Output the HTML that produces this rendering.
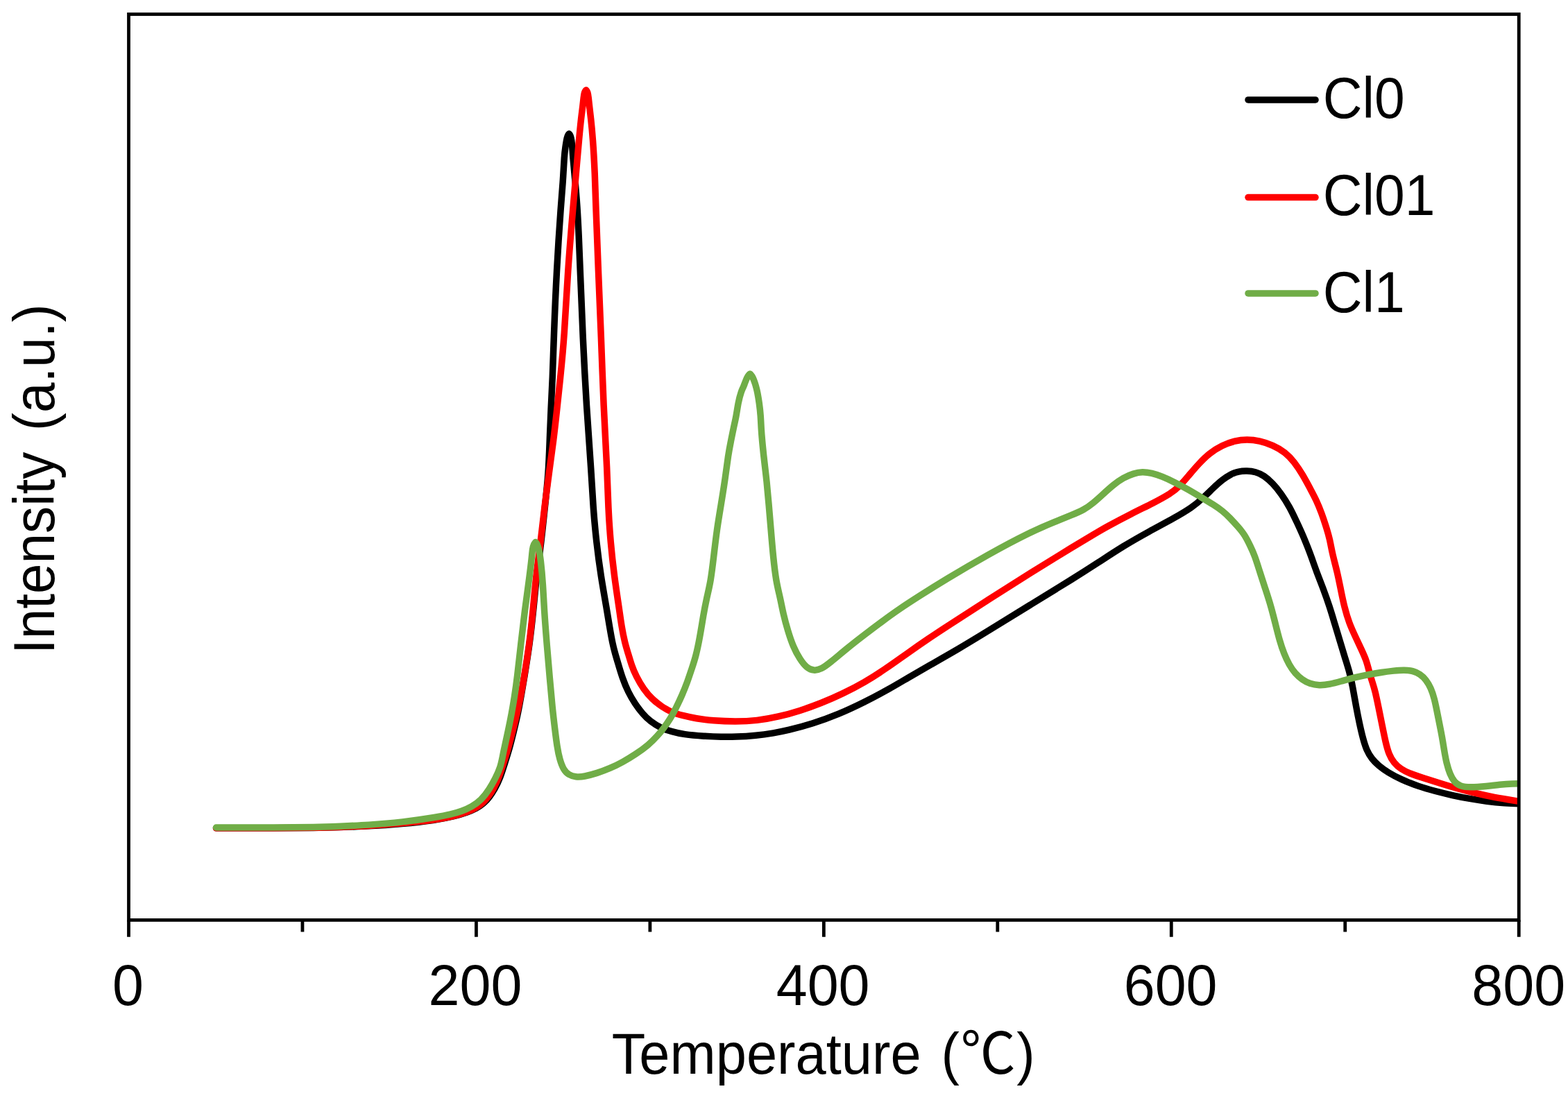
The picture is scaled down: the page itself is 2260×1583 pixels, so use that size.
<!DOCTYPE html>
<html lang="en">
<head>
<meta charset="utf-8">
<title>TPR profiles</title>
<style>
html,body{margin:0;padding:0;background:#fff;}
body{width:2260px;height:1583px;overflow:hidden;}
svg{display:block;}
text{font-family:"Liberation Sans","Noto Sans CJK KR",sans-serif;fill:#000;}
.c{fill:none;stroke-width:9.5;stroke-linecap:round;stroke-linejoin:round;}
.ax{fill:none;stroke:#000;stroke-width:4.8;}
</style>
</head>
<body>
<svg width="2260" height="1583" viewBox="0 0 2260 1583">
<rect x="0" y="0" width="2260" height="1583" fill="#fff"/>
<defs><clipPath id="plot"><rect x="185.5" y="20.5" width="2003.6999999999998" height="1305.95"/></clipPath></defs>
<g clip-path="url(#plot)">
<path class="c" stroke="#000000" d="M311.50 1193.80C311.50 1193.80 311.50 1193.80 326.25 1193.80C341.00 1193.80 370.50 1193.80 394.42 1193.75C418.33 1193.70 436.67 1193.60 451.67 1193.38C466.67 1193.17 478.33 1192.83 490.83 1192.45C503.33 1192.07 516.67 1191.63 531.67 1190.85C546.67 1190.07 563.33 1188.93 579.50 1187.50C595.67 1186.07 611.33 1184.33 624.00 1182.47C636.67 1180.60 646.33 1178.60 654.17 1176.67C662.00 1174.73 668.00 1172.87 673.08 1171.02C678.17 1169.17 682.33 1167.33 686.17 1165.30C690.00 1163.27 693.50 1161.03 696.68 1158.28C699.87 1155.53 702.73 1152.27 705.38 1148.80C708.03 1145.33 710.47 1141.67 712.98 1137.23C715.50 1132.80 718.10 1127.60 720.70 1120.82C723.30 1114.03 725.90 1105.67 728.15 1098.52C730.40 1091.37 732.30 1085.43 734.30 1078.27C736.30 1071.10 738.40 1062.70 740.42 1054.42C742.43 1046.13 744.37 1037.97 746.12 1029.62C747.87 1021.27 749.43 1012.73 750.93 1004.27C752.43 995.80 753.87 987.40 755.97 974.63C758.07 961.87 760.83 944.73 763.12 927.90C765.40 911.07 767.20 894.53 768.82 878.38C770.43 862.23 771.87 846.47 773.73 830.32C775.60 814.17 777.90 797.63 779.90 781.12C781.90 764.60 783.60 748.10 785.33 731.58C787.07 715.07 788.83 698.53 789.98 682.38C791.13 666.23 791.67 650.47 792.27 634.32C792.87 618.17 793.53 601.63 794.22 587.18C794.90 572.73 795.60 560.37 796.27 543.85C796.93 527.33 797.57 506.67 798.55 480.18C799.53 453.70 800.87 421.40 802.60 389.23C804.33 357.07 806.47 325.03 808.02 303.70C809.57 282.37 810.53 271.73 811.32 260.22C812.10 248.70 812.70 236.30 813.28 228.03C813.87 219.77 814.43 215.63 814.97 211.98C815.50 208.33 816.00 205.17 816.48 202.58C816.97 200.00 817.43 198.00 818.05 196.42C818.67 194.83 819.43 193.67 819.82 193.08C820.20 192.50 820.20 192.50 820.58 193.08C820.97 193.67 821.73 194.83 822.33 196.42C822.93 198.00 823.37 200.00 823.75 202.58C824.13 205.17 824.47 208.33 824.75 211.98C825.03 215.63 825.27 219.77 825.97 228.02C826.67 236.27 827.83 248.63 828.92 260.65C830.00 272.67 831.00 284.33 831.88 297.50C832.77 310.67 833.53 325.33 834.23 340.83C834.93 356.33 835.57 372.67 836.52 397.00C837.47 421.33 838.73 453.67 840.23 486.35C841.73 519.03 843.47 552.07 845.53 584.73C847.60 617.40 850.00 649.70 851.62 674.12C853.23 698.53 854.07 715.07 855.25 731.58C856.43 748.10 857.97 764.60 859.82 781.12C861.67 797.63 863.83 814.17 866.33 830.32C868.83 846.47 871.67 862.23 873.73 874.25C875.80 886.27 877.10 894.53 878.48 902.80C879.87 911.07 881.33 919.33 882.68 925.87C884.03 932.40 885.27 937.20 886.72 942.37C888.17 947.53 889.83 953.07 891.58 958.93C893.33 964.80 895.17 971.00 897.48 977.57C899.80 984.13 902.60 991.07 905.62 997.25C908.63 1003.43 911.87 1008.87 915.33 1014.07C918.80 1019.27 922.50 1024.23 926.15 1028.52C929.80 1032.80 933.40 1036.40 937.87 1039.87C942.33 1043.33 947.67 1046.67 952.88 1049.10C958.10 1051.53 963.20 1053.07 968.53 1054.55C973.87 1056.03 979.43 1057.47 987.28 1058.60C995.13 1059.73 1005.27 1060.57 1014.47 1061.15C1023.67 1061.73 1031.93 1062.07 1039.37 1062.23C1046.80 1062.40 1053.40 1062.40 1061.70 1062.08C1070.00 1061.77 1080.00 1061.13 1089.30 1060.20C1098.60 1059.27 1107.20 1058.03 1114.58 1056.83C1121.97 1055.63 1128.13 1054.47 1137.42 1052.23C1146.70 1050.00 1159.10 1046.70 1171.50 1042.78C1183.90 1038.87 1196.30 1034.33 1208.70 1029.17C1221.10 1024.00 1233.50 1018.20 1245.88 1012.00C1258.27 1005.80 1270.63 999.20 1280.95 993.42C1291.27 987.63 1299.53 982.67 1309.03 977.08C1318.53 971.50 1329.27 965.30 1341.38 958.38C1353.50 951.47 1367.00 943.83 1380.98 935.62C1394.97 927.40 1409.43 918.60 1427.00 907.80C1444.57 897.00 1465.23 884.20 1485.88 871.50C1506.53 858.80 1527.17 846.20 1543.35 836.13C1559.53 826.07 1571.27 818.53 1583.15 810.80C1595.03 803.07 1607.07 795.13 1619.28 787.65C1631.50 780.17 1643.90 773.13 1656.30 766.32C1668.70 759.50 1681.10 752.90 1691.43 747.12C1701.77 741.33 1710.03 736.37 1716.63 731.82C1723.23 727.27 1728.17 723.13 1733.33 718.38C1738.50 713.63 1743.90 708.27 1748.72 703.68C1753.53 699.10 1757.77 695.30 1761.88 692.07C1766.00 688.83 1770.00 686.17 1773.83 684.17C1777.67 682.17 1781.33 680.83 1785.20 680.05C1789.07 679.27 1793.13 679.03 1797.23 679.12C1801.33 679.20 1805.47 679.60 1809.60 680.73C1813.73 681.87 1817.87 683.73 1821.98 686.52C1826.10 689.30 1830.20 693.00 1834.32 697.33C1838.43 701.67 1842.57 706.63 1846.70 712.42C1850.83 718.20 1854.97 724.80 1858.68 731.62C1862.40 738.43 1865.70 745.47 1868.80 752.08C1871.90 758.70 1874.80 764.90 1877.48 771.10C1880.17 777.30 1882.63 783.50 1884.72 788.82C1886.80 794.13 1888.50 798.57 1890.60 804.42C1892.70 810.27 1895.20 817.53 1898.10 825.30C1901.00 833.07 1904.30 841.33 1907.40 849.58C1910.50 857.83 1913.40 866.07 1916.08 874.32C1918.77 882.57 1921.23 890.83 1923.72 899.10C1926.20 907.37 1928.70 915.63 1931.18 923.90C1933.67 932.17 1936.13 940.43 1938.43 947.87C1940.73 955.30 1942.87 961.90 1944.72 968.78C1946.57 975.67 1948.13 982.83 1949.75 991.35C1951.37 999.87 1953.03 1009.73 1954.70 1018.78C1956.37 1027.83 1958.03 1036.07 1959.68 1043.70C1961.33 1051.33 1962.97 1058.37 1964.62 1064.57C1966.27 1070.77 1967.93 1076.13 1970.00 1080.88C1972.07 1085.63 1974.53 1089.77 1977.42 1093.48C1980.30 1097.20 1983.60 1100.50 1987.52 1103.80C1991.43 1107.10 1995.97 1110.40 2001.33 1113.70C2006.70 1117.00 2012.90 1120.30 2020.13 1123.62C2027.37 1126.93 2035.63 1130.27 2043.90 1133.12C2052.17 1135.97 2060.43 1138.33 2068.70 1140.52C2076.97 1142.70 2085.23 1144.70 2093.50 1146.52C2101.77 1148.33 2110.03 1149.97 2118.28 1151.42C2126.53 1152.87 2134.77 1154.13 2143.02 1155.18C2151.27 1156.23 2159.53 1157.07 2168.37 1157.67C2177.20 1158.27 2186.60 1158.63 2191.30 1158.82C2196.00 1159.00 2196.00 1159.00 2196.00 1159.00"/>
<path class="c" stroke="#ff0000" d="M311.50 1193.80C311.50 1193.80 311.50 1193.80 326.25 1193.80C341.00 1193.80 370.50 1193.80 394.42 1193.75C418.33 1193.70 436.67 1193.60 451.67 1193.35C466.67 1193.10 478.33 1192.70 490.83 1192.25C503.33 1191.80 516.67 1191.30 531.67 1190.42C546.67 1189.53 563.33 1188.27 579.48 1186.85C595.63 1185.43 611.27 1183.87 623.93 1182.08C636.60 1180.30 646.30 1178.30 654.12 1176.35C661.93 1174.40 667.87 1172.50 672.87 1170.58C677.87 1168.67 681.93 1166.73 685.65 1164.58C689.37 1162.43 692.73 1160.07 695.82 1157.23C698.90 1154.40 701.70 1151.10 704.23 1147.67C706.77 1144.23 709.03 1140.67 711.45 1136.32C713.87 1131.97 716.43 1126.83 719.02 1120.10C721.60 1113.37 724.20 1105.03 726.45 1097.93C728.70 1090.83 730.60 1084.97 732.63 1077.85C734.67 1070.73 736.83 1062.37 738.92 1054.12C741.00 1045.87 743.00 1037.73 744.92 1029.40C746.83 1021.07 748.67 1012.53 750.33 1004.10C752.00 995.67 753.50 987.33 755.62 974.60C757.73 961.87 760.47 944.73 762.70 927.90C764.93 911.07 766.67 894.53 768.22 878.38C769.77 862.23 771.13 846.47 772.95 830.32C774.77 814.17 777.03 797.63 779.07 781.12C781.10 764.60 782.90 748.10 784.90 731.58C786.90 715.07 789.10 698.53 791.30 682.38C793.50 666.23 795.70 650.47 797.62 635.13C799.53 619.80 801.17 604.90 802.73 590.45C804.30 576.00 805.80 562.00 807.58 544.67C809.37 527.33 811.43 506.67 813.27 480.18C815.10 453.70 816.70 421.40 818.87 389.23C821.03 357.07 823.77 325.03 825.78 301.63C827.80 278.23 829.10 263.47 830.47 247.82C831.83 232.17 833.27 215.63 834.47 202.52C835.67 189.40 836.63 179.70 837.50 172.07C838.37 164.43 839.13 158.87 839.73 153.87C840.33 148.87 840.77 144.43 841.17 141.05C841.57 137.67 841.93 135.33 842.52 133.58C843.10 131.83 843.90 130.67 844.30 130.08C844.70 129.50 844.70 129.50 845.10 130.08C845.50 130.67 846.30 131.83 846.88 133.58C847.47 135.33 847.83 137.67 848.23 141.05C848.63 144.43 849.07 148.87 849.63 153.87C850.20 158.87 850.90 164.43 851.73 172.07C852.57 179.70 853.53 189.40 854.50 202.52C855.47 215.63 856.43 232.17 857.12 247.82C857.80 263.47 858.20 278.23 859.02 301.63C859.83 325.03 861.07 357.07 862.38 389.23C863.70 421.40 865.10 453.70 866.35 486.37C867.60 519.03 868.70 552.07 870.18 584.73C871.67 617.40 873.53 649.70 874.67 674.12C875.80 698.53 876.20 715.07 876.95 731.58C877.70 748.10 878.80 764.60 880.25 781.12C881.70 797.63 883.50 814.17 885.60 830.32C887.70 846.47 890.10 862.23 891.85 874.25C893.60 886.27 894.70 894.53 896.07 902.80C897.43 911.07 899.07 919.33 900.77 926.20C902.47 933.07 904.23 938.53 905.80 943.70C907.37 948.87 908.73 953.73 910.50 958.85C912.27 963.97 914.43 969.33 917.37 975.20C920.30 981.07 924.00 987.43 927.90 992.98C931.80 998.53 935.90 1003.27 940.28 1007.47C944.67 1011.67 949.33 1015.33 954.17 1018.58C959.00 1021.83 964.00 1024.67 969.07 1026.78C974.13 1028.90 979.27 1030.30 984.93 1031.72C990.60 1033.13 996.80 1034.57 1004.03 1035.80C1011.27 1037.03 1019.53 1038.07 1029.03 1038.80C1038.53 1039.53 1049.27 1039.97 1059.80 1039.97C1070.33 1039.97 1080.67 1039.53 1091.00 1038.38C1101.33 1037.23 1111.67 1035.37 1121.98 1032.98C1132.30 1030.60 1142.60 1027.70 1152.92 1024.40C1163.23 1021.10 1173.57 1017.40 1183.90 1013.27C1194.23 1009.13 1204.57 1004.57 1214.90 999.60C1225.23 994.63 1235.57 989.27 1245.88 983.28C1256.20 977.30 1266.50 970.70 1276.82 963.68C1287.13 956.67 1297.47 949.23 1308.00 941.80C1318.53 934.37 1329.27 926.93 1338.30 920.80C1347.33 914.67 1354.67 909.83 1368.65 900.75C1382.63 891.67 1403.27 878.33 1423.92 865.08C1444.57 851.83 1465.23 838.67 1485.88 825.75C1506.53 812.83 1527.17 800.17 1542.85 790.63C1558.53 781.10 1569.27 774.70 1577.02 770.10C1584.77 765.50 1589.53 762.70 1598.12 758.00C1606.70 753.30 1619.10 746.70 1630.47 740.92C1641.83 735.13 1652.17 730.17 1661.47 725.42C1670.77 720.67 1679.03 716.13 1685.23 712.22C1691.43 708.30 1695.57 705.00 1699.90 700.67C1704.23 696.33 1708.77 690.97 1713.52 685.38C1718.27 679.80 1723.23 674.00 1728.18 668.63C1733.13 663.27 1738.07 658.33 1743.63 653.97C1749.20 649.60 1755.40 645.80 1761.48 642.82C1767.57 639.83 1773.53 637.67 1779.47 636.22C1785.40 634.77 1791.30 634.03 1797.35 634.02C1803.40 634.00 1809.60 634.70 1815.78 636.08C1821.97 637.47 1828.13 639.53 1834.32 642.32C1840.50 645.10 1846.70 648.60 1851.87 652.63C1857.03 656.67 1861.17 661.23 1865.30 666.60C1869.43 671.97 1873.57 678.13 1877.50 684.73C1881.43 691.33 1885.17 698.37 1888.47 704.57C1891.77 710.77 1894.63 716.13 1897.32 721.92C1900.00 727.70 1902.50 733.90 1904.78 740.10C1907.07 746.30 1909.13 752.50 1911.08 758.70C1913.03 764.90 1914.87 771.10 1916.37 777.65C1917.87 784.20 1919.03 791.10 1920.83 799.02C1922.63 806.93 1925.07 815.87 1927.10 824.47C1929.13 833.07 1930.77 841.33 1932.42 849.58C1934.07 857.83 1935.73 866.07 1937.80 874.32C1939.87 882.57 1942.33 890.83 1945.02 898.07C1947.70 905.30 1950.60 911.50 1953.50 917.70C1956.40 923.90 1959.30 930.10 1961.98 935.88C1964.67 941.67 1967.13 947.03 1969.02 952.48C1970.90 957.93 1972.20 963.47 1973.68 968.90C1975.17 974.33 1976.83 979.67 1978.25 984.17C1979.67 988.67 1980.83 992.33 1982.23 998.10C1983.63 1003.87 1985.27 1011.73 1986.92 1019.78C1988.57 1027.83 1990.23 1036.07 1991.88 1044.32C1993.53 1052.57 1995.17 1060.83 1996.82 1068.07C1998.47 1075.30 2000.13 1081.50 2002.20 1086.67C2004.27 1091.83 2006.73 1095.97 2009.62 1099.48C2012.50 1103.00 2015.80 1105.90 2019.52 1108.38C2023.23 1110.87 2027.37 1112.93 2032.53 1115.00C2037.70 1117.07 2043.90 1119.13 2051.13 1121.47C2058.37 1123.80 2066.63 1126.40 2074.90 1128.98C2083.17 1131.57 2091.43 1134.13 2099.70 1136.47C2107.97 1138.80 2116.23 1140.90 2124.48 1142.88C2132.73 1144.87 2140.97 1146.73 2149.22 1148.37C2157.47 1150.00 2165.73 1151.40 2173.53 1152.72C2181.33 1154.03 2188.67 1155.27 2192.33 1155.88C2196.00 1156.50 2196.00 1156.50 2196.00 1156.50"/>
<path class="c" stroke="#70ad47" d="M311.50 1193.00C311.50 1193.00 311.50 1193.00 326.25 1193.00C341.00 1193.00 370.50 1193.00 394.42 1192.93C418.33 1192.87 436.67 1192.73 451.67 1192.43C466.67 1192.13 478.33 1191.67 490.83 1191.15C503.33 1190.63 516.67 1190.07 531.67 1189.12C546.67 1188.17 563.33 1186.83 580.17 1184.88C597.00 1182.93 614.00 1180.37 625.67 1178.45C637.33 1176.53 643.67 1175.27 649.43 1173.90C655.20 1172.53 660.40 1171.07 665.40 1169.23C670.40 1167.40 675.20 1165.20 679.85 1162.55C684.50 1159.90 689.00 1156.80 693.23 1152.60C697.47 1148.40 701.43 1143.10 704.88 1137.80C708.33 1132.50 711.27 1127.20 713.93 1121.88C716.60 1116.57 719.00 1111.23 720.72 1105.92C722.43 1100.60 723.47 1095.30 724.40 1090.65C725.33 1086.00 726.17 1082.00 727.47 1076.05C728.77 1070.10 730.53 1062.20 732.28 1053.87C734.03 1045.53 735.77 1036.77 737.30 1028.52C738.83 1020.27 740.17 1012.53 741.47 1004.28C742.77 996.03 744.03 987.27 745.58 974.40C747.13 961.53 748.97 944.57 750.85 927.82C752.73 911.07 754.67 894.53 756.47 880.45C758.27 866.37 759.93 854.73 761.55 842.72C763.17 830.70 764.73 818.30 765.70 809.62C766.67 800.93 767.03 795.97 767.58 792.32C768.13 788.67 768.87 786.33 769.62 784.75C770.37 783.17 771.13 782.33 771.52 781.92C771.90 781.50 771.90 781.50 772.28 781.92C772.67 782.33 773.43 783.17 774.22 784.75C775.00 786.33 775.80 788.67 776.65 792.32C777.50 795.97 778.40 800.93 779.42 809.62C780.43 818.30 781.57 830.70 782.38 842.72C783.20 854.73 783.70 866.37 784.62 880.85C785.53 895.33 786.87 912.67 788.22 929.20C789.57 945.73 790.93 961.47 792.25 976.47C793.57 991.47 794.83 1005.73 796.08 1018.12C797.33 1030.50 798.57 1041.00 799.70 1050.38C800.83 1059.77 801.87 1068.03 803.00 1075.27C804.13 1082.50 805.37 1088.70 806.92 1094.28C808.47 1099.87 810.33 1104.83 812.52 1108.55C814.70 1112.27 817.20 1114.73 820.10 1116.48C823.00 1118.23 826.30 1119.27 830.02 1119.68C833.73 1120.10 837.87 1119.90 843.02 1118.97C848.17 1118.03 854.33 1116.37 860.52 1114.40C866.70 1112.43 872.90 1110.17 879.10 1107.48C885.30 1104.80 891.50 1101.70 897.70 1098.30C903.90 1094.90 910.10 1091.20 916.30 1087.07C922.50 1082.93 928.70 1078.37 933.87 1074.02C939.03 1069.67 943.17 1065.53 946.88 1061.40C950.60 1057.27 953.90 1053.13 957.00 1049.02C960.10 1044.90 963.00 1040.80 965.88 1036.05C968.77 1031.30 971.63 1025.90 974.52 1020.12C977.40 1014.33 980.30 1008.17 983.00 1001.98C985.70 995.80 988.20 989.60 990.47 983.40C992.73 977.20 994.77 971.00 996.82 964.80C998.87 958.60 1000.93 952.40 1002.88 944.93C1004.83 937.47 1006.67 928.73 1008.48 918.73C1010.30 908.73 1012.10 897.47 1013.72 888.05C1015.33 878.63 1016.77 871.07 1018.52 863.15C1020.27 855.23 1022.33 846.97 1024.10 836.63C1025.87 826.30 1027.33 813.90 1028.78 801.50C1030.23 789.10 1031.67 776.70 1033.42 764.32C1035.17 751.93 1037.23 739.57 1039.22 727.52C1041.20 715.47 1043.10 703.73 1044.83 691.68C1046.57 679.63 1048.13 667.27 1049.53 657.98C1050.93 648.70 1052.17 642.50 1053.40 636.30C1054.63 630.10 1055.87 623.90 1057.20 617.70C1058.53 611.50 1059.97 605.30 1061.10 599.10C1062.23 592.90 1063.07 586.70 1064.23 580.85C1065.40 575.00 1066.90 569.50 1068.15 565.78C1069.40 562.07 1070.40 560.13 1071.20 558.35C1072.00 556.57 1072.60 554.93 1073.25 553.18C1073.90 551.43 1074.60 549.57 1075.37 547.70C1076.13 545.83 1076.97 543.97 1077.92 542.48C1078.87 541.00 1079.93 539.90 1080.47 539.35C1081.00 538.80 1081.00 538.80 1081.52 539.35C1082.03 539.90 1083.07 541.00 1083.98 542.48C1084.90 543.97 1085.70 545.83 1086.43 547.70C1087.17 549.57 1087.83 551.43 1088.45 553.40C1089.07 555.37 1089.63 557.43 1090.15 559.38C1090.67 561.33 1091.13 563.17 1091.82 566.67C1092.50 570.17 1093.40 575.33 1094.20 581.02C1095.00 586.70 1095.70 592.90 1096.17 599.10C1096.63 605.30 1096.87 611.50 1097.23 617.70C1097.60 623.90 1098.10 630.10 1098.67 636.30C1099.23 642.50 1099.87 648.70 1100.53 654.90C1101.20 661.10 1101.90 667.30 1102.63 673.48C1103.37 679.67 1104.13 685.83 1105.05 694.78C1105.97 703.73 1107.03 715.47 1108.08 727.52C1109.13 739.57 1110.17 751.93 1111.20 764.32C1112.23 776.70 1113.27 789.10 1114.50 801.50C1115.73 813.90 1117.17 826.30 1118.88 836.38C1120.60 846.47 1122.60 854.23 1124.33 862.03C1126.07 869.83 1127.53 877.67 1129.37 885.60C1131.20 893.53 1133.40 901.57 1135.73 909.30C1138.07 917.03 1140.53 924.47 1143.42 931.28C1146.30 938.10 1149.60 944.30 1152.90 949.47C1156.20 954.63 1159.50 958.77 1162.82 961.55C1166.13 964.33 1169.47 965.77 1172.98 966.07C1176.50 966.37 1180.20 965.53 1184.12 963.58C1188.03 961.63 1192.17 958.57 1198.37 953.53C1204.57 948.50 1212.83 941.50 1221.10 934.78C1229.37 928.07 1237.63 921.63 1245.88 915.30C1254.13 908.97 1262.37 902.73 1270.62 896.62C1278.87 890.50 1287.13 884.50 1296.02 878.42C1304.90 872.33 1314.40 866.17 1325.50 859.08C1336.60 852.00 1349.30 844.00 1365.97 833.92C1382.63 823.83 1403.27 811.67 1423.92 800.10C1444.57 788.53 1465.23 777.57 1481.25 769.73C1497.27 761.90 1508.63 757.20 1518.45 753.18C1528.27 749.17 1536.53 745.83 1543.55 742.95C1550.57 740.07 1556.33 737.63 1561.50 734.75C1566.67 731.87 1571.23 728.53 1575.78 724.80C1580.33 721.07 1584.87 716.93 1589.62 712.60C1594.37 708.27 1599.33 703.73 1604.28 699.72C1609.23 695.70 1614.17 692.20 1619.12 689.42C1624.07 686.63 1629.03 684.57 1633.58 683.12C1638.13 681.67 1642.27 680.83 1646.60 680.73C1650.93 680.63 1655.47 681.27 1660.22 682.40C1664.97 683.53 1669.93 685.17 1675.52 687.43C1681.10 689.70 1687.30 692.60 1693.50 695.70C1699.70 698.80 1705.90 702.10 1712.10 705.62C1718.30 709.13 1724.50 712.87 1730.70 716.58C1736.90 720.30 1743.10 724.00 1748.32 727.32C1753.53 730.63 1757.77 733.57 1761.62 736.67C1765.47 739.77 1768.93 743.03 1772.73 746.93C1776.53 750.83 1780.67 755.37 1784.27 759.48C1787.87 763.60 1790.93 767.30 1793.80 771.82C1796.67 776.33 1799.33 781.67 1801.75 786.67C1804.17 791.67 1806.33 796.33 1808.65 802.63C1810.97 808.93 1813.43 816.87 1816.02 824.97C1818.60 833.07 1821.30 841.33 1823.98 849.58C1826.67 857.83 1829.33 866.07 1831.70 874.32C1834.07 882.57 1836.13 890.83 1838.20 899.10C1840.27 907.37 1842.33 915.63 1844.40 922.87C1846.47 930.10 1848.53 936.30 1850.82 942.08C1853.10 947.87 1855.60 953.23 1858.28 957.98C1860.97 962.73 1863.83 966.87 1866.93 970.38C1870.03 973.90 1873.37 976.80 1876.88 979.28C1880.40 981.77 1884.10 983.83 1888.22 985.27C1892.33 986.70 1896.87 987.50 1901.62 987.65C1906.37 987.80 1911.33 987.30 1916.92 986.17C1922.50 985.03 1928.70 983.27 1934.90 981.55C1941.10 979.83 1947.30 978.17 1953.50 976.67C1959.70 975.17 1965.90 973.83 1972.10 972.63C1978.30 971.43 1984.50 970.37 1990.68 969.45C1996.87 968.53 2003.03 967.77 2008.60 967.15C2014.17 966.53 2019.13 966.07 2023.88 966.15C2028.63 966.23 2033.17 966.87 2036.90 967.90C2040.63 968.93 2043.57 970.37 2046.53 972.42C2049.50 974.47 2052.50 977.13 2055.17 980.55C2057.83 983.97 2060.17 988.13 2062.17 992.70C2064.17 997.27 2065.83 1002.23 2067.28 1007.82C2068.73 1013.40 2069.97 1019.60 2071.20 1025.78C2072.43 1031.97 2073.67 1038.13 2074.90 1044.32C2076.13 1050.50 2077.37 1056.70 2078.47 1062.90C2079.57 1069.10 2080.53 1075.30 2081.57 1081.50C2082.60 1087.70 2083.70 1093.90 2085.08 1099.68C2086.47 1105.47 2088.13 1110.83 2090.00 1115.38C2091.87 1119.93 2093.93 1123.67 2096.40 1126.57C2098.87 1129.47 2101.73 1131.53 2105.45 1132.87C2109.17 1134.20 2113.73 1134.80 2120.13 1134.80C2126.53 1134.80 2134.77 1134.20 2141.98 1133.48C2149.20 1132.77 2155.40 1131.93 2161.60 1131.30C2167.80 1130.67 2174.00 1130.23 2179.73 1130.02C2185.47 1129.80 2190.73 1129.80 2193.37 1129.80C2196.00 1129.80 2196.00 1129.80 2196.00 1129.80"/>
</g>
<rect class="ax" x="185.5" y="20.5" width="2003.6999999999998" height="1305.95"/>
<path class="ax" d="M185.50 1326.45 V1350.7M435.96 1326.45 V1343.4M686.42 1326.45 V1350.7M936.89 1326.45 V1343.4M1187.35 1326.45 V1350.7M1437.81 1326.45 V1343.4M1688.27 1326.45 V1350.7M1938.74 1326.45 V1343.4M2189.20 1326.45 V1350.7"/>
<text transform="translate(161.97 1448.85) scale(0.9700 1.0120)" font-size="83.33">0</text>
<text transform="translate(617.60 1448.85) scale(0.9700 1.0120)" font-size="83.33">200</text>
<text transform="translate(1118.69 1448.85) scale(0.9700 1.0120)" font-size="83.33">400</text>
<text transform="translate(1619.70 1448.85) scale(0.9700 1.0120)" font-size="83.33">600</text>
<text transform="translate(2121.24 1448.85) scale(0.9700 1.0120)" font-size="83.33">800</text>
<text transform="translate(881.63 1548.20) scale(0.9534 1.0000)" font-size="83.33" style="word-spacing:7.24px">Temperature <tspan style="letter-spacing:1.50px">(℃)</tspan></text>
<text transform="translate(78.40 942.98) rotate(-90) scale(0.9394 1.0110)" font-size="83.33" style="word-spacing:9.33px">Intensity (a.u.)</text>
<path class="c" stroke="#000000" d="M1799.0 143.9 H1896.0"/>
<text transform="translate(1906.79 169.55) scale(0.9430 1.0000)" font-size="83.33">Cl0</text>
<path class="c" stroke="#ff0000" d="M1799.0 284.6 H1896.0"/>
<text transform="translate(1906.79 309.55) scale(0.9430 1.0000)" font-size="83.33">Cl01</text>
<path class="c" stroke="#70ad47" d="M1799.0 422.9 H1896.0"/>
<text transform="translate(1906.79 449.55) scale(0.9430 1.0000)" font-size="83.33">Cl1</text>
</svg>
</body>
</html>
